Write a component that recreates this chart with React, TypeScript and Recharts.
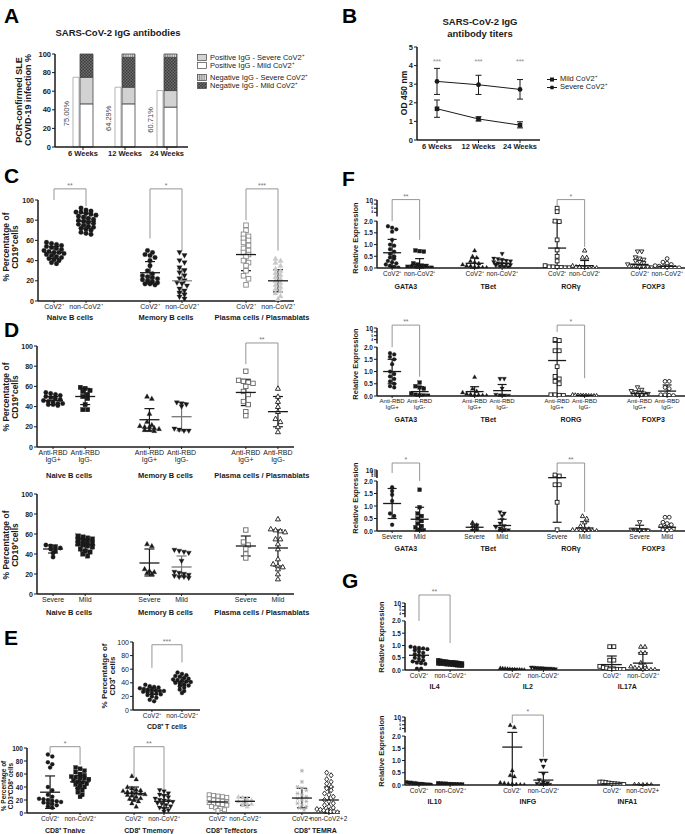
import React from 'react';
import {
  BarChart, Bar, LineChart, Line, ScatterChart, Scatter, XAxis, YAxis,
  ErrorBar, ReferenceLine, ReferenceDot, LabelList,
} from 'recharts';

const FONT = '"Liberation Sans", Arial, Helvetica, sans-serif';
const INK = '#1a1a1a';

// ---------- A: IgG antibodies ----------
const weeks = ['6 Weeks', '12 Weeks', '24 Weeks'];
const igPositiveTotal = [75.0, 64.29, 60.71];
const posMild = [46.4, 46.4, 42.9];
const posSevere = [28.6, 17.9, 17.8];
const negMild = [25.0, 32.1, 35.7];
const negSevere = [0, 3.6, 3.6];

// ---------- B: antibody titers ----------
const severeMean = [3.15, 2.97, 2.72];
const severeLo = [2.45, 2.45, 2.2];
const severeHi = [3.85, 3.48, 3.25];
const mildMean = [1.68, 1.13, 0.8];
const mildLo = [1.22, 1.02, 0.65];
const mildHi = [2.15, 1.25, 0.98];
const titerStars = ['***', '***', '***'];
const titerStarLevel = 4.2;

// ---------- C: B cells, CoV2+ vs non-CoV2+ ----------
const cNaiveCov = [58, 57, 56, 55, 54, 53, 52, 51, 50, 49, 48, 48, 47, 46, 45, 44, 43, 42, 41, 40, 38, 37];
const cNaiveNon = [92, 90, 89, 88, 88, 87, 86, 85, 84, 83, 82, 81, 80, 79, 78, 77, 76, 75, 74, 73, 72, 71, 70, 68, 67, 66];
const cMemCov = [50, 48, 46, 45, 43, 40, 35, 30, 27, 25, 24, 23, 22, 21, 20, 19, 18, 17, 17, 16];
const cMemNon = [48, 45, 40, 38, 33, 30, 28, 25, 22, 20, 18, 17, 15, 12, 10, 8, 6, 4, 2];
const cPlasCov = [75, 70, 66, 64, 62, 60, 58, 55, 52, 50, 48, 46, 44, 40, 38, 35, 30, 25, 22, 16];
const cPlasNon = [42, 40, 38, 35, 32, 30, 28, 26, 24, 22, 20, 18, 16, 14, 12, 10, 8, 5, 2];
const cMeans = [48, 79, 28, 20, 46, 20];
const cLows = [42, 72, 17, 8, 30, 9];
const cHighs = [54, 87, 39, 32, 63, 31];
const bCovLabels = ['CoV2⁺', 'non-CoV2⁺', 'CoV2⁺', 'non-CoV2⁺', 'CoV2⁺', 'non-CoV2⁺'];
const bCellNames = ['Naive B cells', 'Memory B cells', 'Plasma cells / Plasmablats'];
const cBrackets = [
  { a: 0, b: 1, top: 111, la: 100, lb: 94, t: '**' },
  { a: 2, b: 3, top: 111, la: 62, lb: 50, t: '*' },
  { a: 4, b: 5, top: 111, la: 80, lb: 50, t: '***' },
];

// ---------- D: anti-RBD and severity ----------
const dNaivePos = [54, 53, 52, 51, 50, 49, 48, 47, 46, 45, 44, 43, 43, 42, 42, 41];
const dNaiveNeg = [59, 58, 56, 55, 52, 50, 48, 42, 37, 37];
const dMemPos = [50, 48, 33, 25, 22, 21, 20, 20, 19, 18, 17, 17, 16];
const dMemNeg = [44, 43, 42, 40, 18, 17, 16, 16];
const dPlasPos = [75, 66, 65, 64, 63, 60, 55, 52, 45, 42, 35, 31];
const dPlasNeg = [58, 50, 45, 40, 35, 28, 25, 20, 15];
const dMeans = [46, 50, 27, 30, 54, 35];
const dLows = [42, 42, 16, 16, 41, 20];
const dHighs = [50, 58, 38, 44, 67, 50];
const rbdLabels = ['Anti-RBD\nIgG+', 'Anti-RBD\nIgG-', 'Anti-RBD\nIgG+', 'Anti-RBD\nIgG-', 'Anti-RBD\nIgG+', 'Anti-RBD\nIgG-'];
const dBrackets = [{ a: 4, b: 5, top: 103, la: 82, lb: 59, t: '**' }];

const sNaiveSev = [49, 48, 47, 46, 45, 43, 41, 37];
const sNaiveMild = [58, 57, 56, 55, 54, 53, 52, 51, 50, 49, 48, 47, 45, 43, 42, 40, 38];
const sMemSev = [50, 48, 25, 23, 22, 21, 20];
const sMemMild = [44, 43, 42, 41, 33, 22, 21, 20, 19, 18, 17, 17, 16];
const sPlasSev = [64, 52, 49, 45, 40, 36];
const sPlasMild = [75, 65, 64, 63, 62, 55, 55, 50, 45, 35, 30, 28, 27, 25, 20, 15];
const sMeans = [45, 49, 31, 27, 48, 46];
const sLows = [41, 43, 18, 17, 38, 28];
const sHighs = [49, 55, 45, 38, 58, 64];
const sevLabels = ['Severe', 'Mild', 'Severe', 'Mild', 'Severe', 'Mild'];

// ---------- E: CD8 T cells ----------
const eCd8Cov = [37, 35, 34, 33, 32, 31, 30, 30, 29, 28, 28, 27, 26, 25, 24, 23, 22, 20, 18, 15, 13];
const eCd8Non = [55, 53, 51, 50, 49, 47, 46, 45, 44, 43, 42, 41, 40, 39, 38, 36, 35, 33, 30, 28, 25];
const eCd8Means = [28, 42];
const eCd8Lows = [23, 36];
const eCd8Highs = [33, 48];
const eCd8Brackets = [{ a: 0, b: 1, top: 96, la: 62, lb: 70, t: '***' }];

const eNaiveCov = [90, 87, 78, 75, 70, 40, 35, 28, 25, 22, 21, 20, 19, 18, 17, 16, 15, 14, 12, 10, 8];
const eNaiveNon = [70, 68, 65, 63, 60, 58, 56, 55, 54, 53, 52, 50, 48, 47, 45, 44, 42, 40, 38, 35, 32, 28, 25];
const eMemCov = [57, 52, 40, 38, 36, 35, 34, 33, 32, 31, 30, 29, 28, 27, 25, 23, 22, 20, 18, 15, 10];
const eMemNon = [35, 33, 30, 28, 26, 24, 22, 20, 19, 18, 17, 15, 14, 12, 10, 8, 6, 4, 2];
const eEffCov = [28, 27, 26, 25, 24, 22, 20, 19, 18, 17, 16, 15, 14, 13, 12, 10, 8, 7, 5, 4];
const eEffNon = [25, 24, 22, 20, 18, 16, 15, 14, 12, 10];
const eTemraCov = [65, 48, 40, 38, 35, 30, 28, 25, 22, 20, 18, 15, 12, 10, 8, 5];
const eTemraNon = [62, 58, 52, 48, 45, 40, 38, 35, 30, 28, 25, 20, 18, 15, 12, 10, 8, 6, 5, 4, 3, 2, 2, 1, 1];
const eSubMeans = [32, 48, 30, 18, 17, 18, 23, 20];
const eSubLows = [7, 38, 20, 8, 10, 12, 8, 0];
const eSubHighs = [57, 58, 40, 28, 24, 24, 38, 40];
const eSubLabels = ['CoV2⁺', 'non-CoV2⁺', 'CoV2⁺', 'non-CoV2⁺', 'CoV2⁺', 'non-CoV2⁺', 'CoV2+', 'non-CoV2+2'];
const eSubNames = ['CD8⁺ Tnaive', 'CD8⁺ Tmemory', 'CD8⁺ Teffectors', 'CD8⁺ TEMRA'];
const eSubBrackets = [
  { a: 0, b: 1, top: 102, la: 92, lb: 74, t: '*' },
  { a: 2, b: 3, top: 102, la: 55, lb: 9, t: '**' },
];

// ---------- F: transcription factors ----------
const fGataCov = [1.78, 1.72, 1.65, 1.55, 1.2, 1.0, 0.95, 0.8, 0.7, 0.6, 0.5, 0.45, 0.4, 0.3, 0.25, 0.2, 0.15, 0.1, 0.05, 0.02, 0.01];
const fGataNon = [0.75, 0.72, 0.7, 0.2, 0.15, 0.1, 0.08, 0.05, 0.05, 0.03, 0.02, 0.02, 0.01, 0.01];
const fTbetCov = [0.75, 0.5, 0.45, 0.3, 0.25, 0.2, 0.15, 0.1, 0.1, 0.05, 0.05, 0.03, 0.02, 0.01];
const fTbetNon = [0.6, 0.4, 0.38, 0.35, 0.3, 0.28, 0.25, 0.2, 0.18, 0.15, 0.12, 0.1, 0.08, 0.05, 0.03];
const fRorCov = [6, 4.3, 2.0, 1.98, 1.2, 0.77, 0.5, 0.3, 0.1, 0.05, 0.05, 0.03, 0.02, 0.01, 0.01];
const fRorNon = [0.75, 0.45, 0.45, 0.1, 0.05, 0.05, 0.03, 0.02, 0.01, 0.01, 0.01];
const fFoxCov = [0.7, 0.7, 0.45, 0.4, 0.35, 0.3, 0.25, 0.2, 0.15, 0.1, 0.1, 0.05, 0.05, 0.03, 0.02];
const fFoxNon = [0.4, 0.25, 0.2, 0.15, 0.1, 0.08, 0.05, 0.05, 0.03, 0.02, 0.01];
const fMeans = [0.65, 0.15, 0.2, 0.2, 0.85, 0.1, 0.15, 0.07];
const fLows = [0.08, 0, 0, 0.05, 0, 0, 0, 0.02];
const fHighs = [1.22, 0.4, 0.42, 0.35, 1.95, 0.32, 0.3, 0.12];
const fCovLabels = ['CoV2⁺', 'non-CoV2⁺', 'CoV2⁺', 'non-CoV2⁺', 'CoV2⁺', 'non-CoV2⁺', 'CoV2⁺', 'non-CoV2⁺'];
const tfNames = ['GATA3', 'TBet', 'RORγ', 'FOXP3'];
const fBrackets = [
  { a: 0, b: 1, top: 10.2, la: 2.0, lb: 1.2, t: '**' },
  { a: 4, b: 5, top: 10.2, la: 6, lb: 0.9, t: '*' },
];

const gGataPos = [1.75, 1.7, 1.6, 1.5, 1.3, 1.0, 0.9, 0.8, 0.7, 0.6, 0.5, 0.4, 0.35];
const gGataNeg = [0.55, 0.4, 0.35, 0.3, 0.1, 0.05, 0.03, 0.02, 0.01];
const gTbetPos = [0.78, 0.3, 0.2, 0.15, 0.1, 0.08, 0.05, 0.05, 0.03, 0.02];
const gTbetNeg = [0.7, 0.7, 0.3, 0.05, 0.03, 0.02, 0.01];
const gRorPos = [4, 3.5, 1.85, 1.85, 1.2, 0.8, 0.7, 0.6, 0.5, 0.05, 0.05, 0.03, 0.02];
const gRorNeg = [0.05, 0.04, 0.03, 0.03, 0.02, 0.02, 0.01, 0.01, 0.01, 0.01];
const gFoxPos = [0.35, 0.25, 0.2, 0.15, 0.12, 0.1, 0.08, 0.05, 0.05, 0.03, 0.02];
const gFoxNeg = [0.6, 0.6, 0.35, 0.3, 0.05, 0.05, 0.03, 0.02];
const gMeans = [1.0, 0.18, 0.18, 0.22, 1.45, 0.02, 0.1, 0.2];
const gLows = [0.5, 0, 0, 0, 0.05, 0, 0, 0];
const gHighs = [1.5, 0.38, 0.38, 0.47, 2.6, 0.04, 0.2, 0.45];
const rbdLabels8 = ['Anti-RBD\nIgG+', 'Anti-RBD\nIgG-', 'Anti-RBD\nIgG+', 'Anti-RBD\nIgG-', 'Anti-RBD\nIgG+', 'Anti-RBD\nIgG-', 'Anti-RBD\nIgG+', 'Anti-RBD\nIgG-'];
const tfNamesRbd = ['GATA3', 'TBet', 'RORG', 'FOXP3'];
const gBrackets = [
  { a: 0, b: 1, top: 11.5, la: 2.0, lb: 0.79, t: '**' },
  { a: 4, b: 5, top: 11.5, la: 8, lb: 0.73, t: '*' },
];

const hGataSev = [1.75, 1.6, 1.45, 1.2, 0.7, 0.6, 0.25];
const hGataMild = [1.65, 0.95, 0.7, 0.6, 0.5, 0.4, 0.3, 0.2, 0.15, 0.05, 0.03, 0.02, 0.01];
const hTbetSev = [0.35, 0.25, 0.2, 0.15, 0.05, 0.03];
const hTbetMild = [0.75, 0.7, 0.6, 0.45, 0.3, 0.2, 0.15, 0.1, 0.05, 0.03, 0.02, 0.01];
const hRorSev = [5, 4, 1.85, 1.85, 1.15, 0.05];
const hRorMild = [0.6, 0.5, 0.35, 0.2, 0.1, 0.08, 0.05, 0.05, 0.03, 0.02, 0.02, 0.01, 0.01];
const hFoxSev = [0.35, 0.05, 0.05, 0.03, 0.02, 0.01];
const hFoxMild = [0.55, 0.55, 0.35, 0.3, 0.25, 0.2, 0.15, 0.1, 0.08, 0.05, 0.03, 0.02];
const hMeans = [1.1, 0.47, 0.15, 0.22, 2.33, 0.12, 0.08, 0.15];
const hLows = [0.5, 0, 0.05, 0, 0.35, 0, 0, 0.03];
const hHighs = [1.7, 0.95, 0.27, 0.47, 4.2, 0.37, 0.23, 0.3];
const sevLabels8 = ['Severe', 'Mild', 'Severe', 'Mild', 'Severe', 'Mild', 'Severe', 'Mild'];
const hBrackets = [
  { a: 0, b: 1, top: 17, la: 7, lb: 2.0, t: '*' },
  { a: 4, b: 5, top: 17, la: 8, lb: 0.76, t: '**' },
];

// ---------- G: cytokines ----------
const iIl4Cov = [0.95, 0.92, 0.9, 0.88, 0.85, 0.8, 0.75, 0.7, 0.65, 0.6, 0.55, 0.5, 0.45, 0.4, 0.35, 0.3, 0.28, 0.25, 0.05, 0.05];
const iIl4Non = [0.4, 0.38, 0.36, 0.35, 0.34, 0.33, 0.32, 0.31, 0.3, 0.3, 0.29, 0.28, 0.27, 0.26, 0.25, 0.25, 0.24, 0.23, 0.22, 0.21, 0.2, 0.19, 0.18, 0.17];
const iIl2Cov = [0.08, 0.07, 0.06, 0.05, 0.04, 0.03, 0.03, 0.02, 0.02, 0.01, 0.01];
const iIl2Non = [0.1, 0.09, 0.08, 0.07, 0.07, 0.06, 0.05, 0.05, 0.04, 0.03];
const iIl17Cov = [0.95, 0.95, 0.4, 0.4, 0.15, 0.1, 0.08, 0.05, 0.05, 0.03, 0.02, 0.02, 0.01, 0.01];
const iIl17Non = [0.95, 0.95, 0.7, 0.7, 0.3, 0.2, 0.15, 0.1, 0.08, 0.05, 0.03, 0.02, 0.02, 0.01];
const iMeans = [0.6, 0.28, 0.03, 0.06, 0.22, 0.28];
const iLows = [0.35, 0.2, 0.01, 0.04, 0, 0];
const iHighs = [0.85, 0.36, 0.05, 0.08, 0.57, 0.7];
const iNames = ['IL4', 'IL2', 'IL17A'];
const iBrackets = [{ a: 0, b: 1, top: 14.5, la: 2.0, lb: 1.1, t: '**' }];

const jIl10Cov = [0.12, 0.1, 0.1, 0.08, 0.08, 0.06, 0.05, 0.04, 0.03, 0.02, 0.02, 0.01];
const jIl10Non = [0.07, 0.06, 0.05, 0.05, 0.04, 0.04, 0.03, 0.03, 0.02, 0.02];
const jInfgCov = [5.8, 4.7, 0.6, 0.4, 0.35, 0.1, 0.08, 0.05, 0.05, 0.03, 0.02, 0.01];
const jInfgNon = [1.0, 1.0, 0.75, 0.45, 0.2, 0.1, 0.08, 0.05, 0.03, 0.02, 0.01];
const jInfaCov = [0.12, 0.12, 0.1, 0.08, 0.06, 0.05, 0.04, 0.03, 0.02];
const jInfaNon = [0.02, 0.02, 0.01, 0.01, 0.01];
const jMeans = [0.05, 0.04, 1.55, 0.2, 0.05, 0.01];
const jLows = [0.02, 0.02, 0, 0, 0.02, 0];
const jHighs = [0.08, 0.06, 2.02, 0.52, 0.08, 0.02];
const jLabels = ['CoV2⁺', 'non-CoV2⁺', 'CoV2⁺', 'non-CoV2⁺', 'CoV2⁺', 'non-CoV2+'];
const jNames = ['IL10', 'INFG', 'INFA1'];
const jBrackets = [{ a: 2, b: 3, top: 11, la: 6.8, lb: 1.14, t: '*' }];

// ---------- helpers ----------
type Bracket = { a: number; b: number; top: number; la: number; lb: number; t: string };

// broken axis: 0..2 linear, then a gap, then 2..10 squeezed
const brk = (g: number, s: number) => (v: number) => (v <= 2 ? v : 2 + g + ((v - 2) / 8) * s);
const brkTicks = (f: (v: number) => number) => [0, 0.5, 1, 1.5, 2, f(4), f(6), f(8), f(10)];
const brkLabels = ['0.0', '0.5', '1.0', '1.5', '2.0', '4', '6', '8', '10'];

function swarm(vals: number[], pos: number, dx: number, bin: number, maxHalf: number) {
  const s = [...vals].sort((a, b) => b - a);
  const out: { x: number; y: number }[] = [];
  let i = 0;
  while (i < s.length) {
    let j = i;
    while (j < s.length && s[i] - s[j] < bin) j++;
    const n = j - i;
    const step = n > 1 ? Math.min(dx, (2 * maxHalf) / (n - 1)) : 0;
    for (let k = 0; k < n; k++) out.push({ x: pos + (k - (n - 1) / 2) * step, y: s[i + k] });
    i = j;
  }
  return out;
}

function markerShape(kind: string, color: string, r: number) {
  return (p: any) => {
    const { cx, cy } = p;
    if (cx == null || cy == null) return <g />;
    const open = kind.startsWith('o');
    const k = open ? kind.slice(1) : kind;
    const fill = open ? '#fff' : color;
    const sw = open ? 0.9 : 0.3;
    if (k === 'square') return <rect x={cx - r} y={cy - r} width={2 * r} height={2 * r} fill={fill} stroke={color} strokeWidth={sw} />;
    if (k === 'triangle')
      return <polygon points={`${cx},${cy - r * 1.2} ${cx + r * 1.15},${cy + r * 0.85} ${cx - r * 1.15},${cy + r * 0.85}`} fill={fill} stroke={color} strokeWidth={sw} />;
    if (k === 'tridown')
      return <polygon points={`${cx},${cy + r * 1.2} ${cx + r * 1.15},${cy - r * 0.85} ${cx - r * 1.15},${cy - r * 0.85}`} fill={fill} stroke={color} strokeWidth={sw} />;
    if (k === 'diamond')
      return <polygon points={`${cx},${cy - r * 1.3} ${cx + r},${cy} ${cx},${cy + r * 1.3} ${cx - r},${cy}`} fill={fill} stroke={color} strokeWidth={sw} />;
    if (k === 'star')
      return (
        <g stroke={color} strokeWidth={0.9}>
          <line x1={cx - r} y1={cy} x2={cx + r} y2={cy} />
          <line x1={cx - r * 0.6} y1={cy - r} x2={cx + r * 0.6} y2={cy + r} />
          <line x1={cx + r * 0.6} y1={cy - r} x2={cx - r * 0.6} y2={cy + r} />
        </g>
      );
    return <circle cx={cx} cy={cy} r={r} fill={fill} stroke={color} strokeWidth={sw} />;
  };
}

const makeTick = (positions: number[], labels: string[], fs: number, bold: boolean, dy: number) => (p: any) => {
  let idx = positions.findIndex((v) => Math.abs(v - Number(p.payload?.value)) < 1e-6);
  if (idx < 0) idx = p.index ?? 0;
  const lines = (labels[idx] ?? '').split('\n');
  return (
    <text x={p.x} y={p.y} textAnchor="middle" fontSize={fs} fontWeight={bold ? 700 : 400} fill={INK} fontFamily={FONT}>
      {lines.map((l, i) => (
        <tspan key={i} x={p.x} dy={i === 0 ? dy : fs + 0.3}>{l}</tspan>
      ))}
    </text>
  );
};

// y tick for the broken axes: the squeezed 4/6/8 labels are drawn tiny, like the original
const makeYTick = (ticks: number[], labels: string[], fs: number, bold: boolean) => (p: any) => {
  let idx = ticks.findIndex((v) => Math.abs(v - Number(p.payload?.value)) < 1e-6);
  if (idx < 0) idx = p.index ?? 0;
  const lab = labels[idx] ?? '';
  const tiny = lab === '4' || lab === '6' || lab === '8';
  return (
    <text x={p.x} y={p.y} textAnchor="end" dominantBaseline="central" fontSize={tiny ? 3.2 : fs} fontWeight={bold ? 700 : 400} fill={INK} fontFamily={FONT}>
      {lab}
    </text>
  );
};

interface DotProps {
  px: number; py: number; pw: number; ph: number; h1: number;
  yw?: number;
  positions: number[];
  xDomain: [number, number];
  yTop: number;
  yTicks: number[];
  yLabels: string[];
  tf?: (v: number) => number;
  brkGap?: number;
  values: number[][];
  means: number[]; lows: number[]; highs: number[];
  markers: string[]; colors: string[]; barColors: string[];
  tickLabels: string[];
  names: string[]; namePos: number[];
  brackets: Bracket[];
  r?: number;
  meanHalf?: number;
  capHalf?: number;
  tickFs?: number;
  yFs?: number;
  nameFs?: number;
  yBold?: boolean;
}

function DotChart(p: DotProps) {
  const tf = p.tf ?? ((v: number) => v);
  const yw = p.yw ?? 20;
  const mt = 2;
  const mr = 2;
  const h2 = 12;
  const W = yw + p.pw + mr;
  const H = mt + p.ph + p.h1 + h2;
  const pxX = p.pw / (p.xDomain[1] - p.xDomain[0]);
  const pxY = p.ph / p.yTop;
  const r = p.r ?? 2.2;
  const tickFs = p.tickFs ?? 7;
  const yFs = p.yFs ?? 7;
  const yBold = p.yBold !== false;
  const pts = p.values.map((vals, i) =>
    swarm(vals.map(tf), p.positions[i], (2 * r + 0.4) / pxX, (1.7 * r) / pxY, 12 / pxX),
  );
  const meanData = p.means.map((m, i) => ({
    x: p.positions[i],
    y: tf(m),
    err: [tf(m) - tf(p.lows[i]), tf(p.highs[i]) - tf(m)],
  }));
  const mh = p.meanHalf ?? 10;
  const axisStroke = { stroke: INK, strokeWidth: 1.5 };
  const x0 = p.xDomain[0];
  return (
    <div style={{ position: 'absolute', left: p.px - yw, top: p.py - mt }}>
      <ScatterChart width={W} height={H} margin={{ top: mt, right: mr, bottom: 0, left: 0 }}>
        <XAxis
          type="number" dataKey="x" domain={p.xDomain} ticks={p.positions} interval={0} allowDataOverflow
          height={p.h1} tickSize={2} tickMargin={0} axisLine={axisStroke} tickLine={{ stroke: INK }}
          tick={makeTick(p.positions, p.tickLabels, tickFs, false, tickFs * 0.85)}
        />
        <XAxis
          xAxisId="names" type="number" dataKey="x" domain={p.xDomain} ticks={p.namePos} interval={0} allowDataOverflow
          height={h2} tickSize={0} tickMargin={0} axisLine={false} tickLine={false}
          tick={makeTick(p.namePos, p.names, p.nameFs ?? 7.5, true, 8)}
        />
        <YAxis
          type="number" dataKey="y" domain={[0, p.yTop]} ticks={p.yTicks} interval={0} allowDataOverflow width={yw}
          tickSize={3} tickMargin={1} axisLine={p.brkGap != null ? false : axisStroke} tickLine={{ stroke: INK }}
          tick={makeYTick(p.yTicks, p.yLabels, yFs, yBold)}
        />
        {p.brkGap != null && (
          <ReferenceLine segment={[{ x: x0, y: 0 }, { x: x0, y: 2 }]} stroke={INK} strokeWidth={1.5} ifOverflow="visible" />
        )}
        {p.brkGap != null && (
          <ReferenceLine segment={[{ x: x0, y: 2 + p.brkGap }, { x: x0, y: p.yTop }]} stroke={INK} strokeWidth={1.5} ifOverflow="visible" />
        )}
        {p.brackets.flatMap((b, i) => {
          const xa = p.positions[b.a];
          const xb = p.positions[b.b];
          const yt = tf(b.top);
          return [
            <ReferenceLine key={`l${i}`} segment={[{ x: xa, y: tf(b.la) }, { x: xa, y: yt }]} stroke="#8a8a8a" strokeWidth={0.9} ifOverflow="visible" />,
            <ReferenceLine
              key={`t${i}`} segment={[{ x: xa, y: yt }, { x: xb, y: yt }]} stroke="#8a8a8a" strokeWidth={0.9} ifOverflow="visible"
              label={{ value: b.t, position: 'top', fontSize: 7, fill: '#777', fontFamily: FONT, offset: 1 }}
            />,
            <ReferenceLine key={`r${i}`} segment={[{ x: xb, y: yt }, { x: xb, y: tf(b.lb) }]} stroke="#8a8a8a" strokeWidth={0.9} ifOverflow="visible" />,
          ];
        })}
        {pts.map((d, i) => (
          <Scatter key={`g${i}`} data={d} shape={markerShape(p.markers[i], p.colors[i], r)} isAnimationActive={false} />
        ))}
        {meanData.map((d, i) => (
          <Scatter
            key={`m${i}`} data={[d]} isAnimationActive={false}
            shape={(s: any) => <line x1={s.cx - mh} x2={s.cx + mh} y1={s.cy} y2={s.cy} stroke={p.barColors[i]} strokeWidth={1.3} />}
          >
            <ErrorBar dataKey="err" direction="y" width={p.capHalf ?? 5} stroke={p.barColors[i]} strokeWidth={1.2} />
          </Scatter>
        ))}
        <Scatter xAxisId="names" data={p.namePos.map((x) => ({ x, y: 0 }))} shape={() => <g />} isAnimationActive={false} />
      </ScatterChart>
    </div>
  );
}

function YLabel({ cx, cy, lines, fs }: { cx: number; cy: number; lines: string[]; fs: number }) {
  return (
    <div
      style={{
        position: 'absolute', left: cx, top: cy, transform: 'translate(-50%, -50%) rotate(-90deg)',
        whiteSpace: 'nowrap', textAlign: 'center', fontWeight: 700, fontSize: fs, lineHeight: 1.05, color: INK,
      }}
    >
      {lines.map((l, i) => (
        <div key={i}>{l}</div>
      ))}
    </div>
  );
}

function Letter({ x, y, t }: { x: number; y: number; t: string }) {
  return (
    <div style={{ position: 'absolute', left: x, top: y, fontSize: 21, fontWeight: 700, lineHeight: 1, color: '#000' }}>{t}</div>
  );
}

function Swatch({ fill }: { fill: string }) {
  return (
    <svg width={10} height={7} style={{ display: 'block', marginRight: 3 }}>
      <rect x={0.5} y={0.5} width={9} height={6} fill={fill} stroke="#444" strokeWidth={0.7} />
    </svg>
  );
}

const pctLabel = (p: any) => {
  const x = Number(p.x);
  const y = Number(p.y);
  const h = Number(p.height);
  const cx = x - 6;
  const cy = y + h * 0.52;
  return (
    <text x={cx} y={cy} transform={`rotate(-90 ${cx} ${cy})`} textAnchor="middle" dominantBaseline="central" fontSize={7.5} fill="#444" fontFamily={FONT}>
      {Number(p.value).toFixed(2)}%
    </text>
  );
};

function PanelA() {
  const data = weeks.map((w, i) => ({
    week: w, total: igPositiveTotal[i], posMild: posMild[i], posSevere: posSevere[i], negMild: negMild[i], negSevere: negSevere[i],
  }));
  const bs = { stroke: '#444', strokeWidth: 0.8 };
  const legend = [
    { fill: '#d2d2d2', text: 'Positive IgG - Severe CoV2⁺' },
    { fill: '#fff', text: 'Positive IgG - Mild CoV2⁺' },
    { fill: 'url(#aVlines)', text: 'Negative IgG - Severe CoV2⁺', gap: true },
    { fill: 'url(#aHatch)', text: 'Negative IgG - Mild CoV2⁺' },
  ];
  return (
    <>
      <div style={{ position: 'absolute', left: 118, top: 27, transform: 'translateX(-50%)', fontSize: 9.5, fontWeight: 700, whiteSpace: 'nowrap' }}>
        SARS-CoV-2 IgG antibodies
      </div>
      <YLabel cx={24} cy={100} lines={['PCR-confirmed SLE', 'COVID-19 infection %']} fs={9} />
      <div style={{ position: 'absolute', left: 33, top: 52 }}>
        <BarChart width={22 + 133 + 2} height={2 + 93 + 13} data={data} margin={{ top: 2, right: 2, left: 0, bottom: 0 }} barGap={1} barCategoryGap={0}>
          <defs>
            <pattern id="aHatch" width="3" height="3" patternUnits="userSpaceOnUse">
              <rect width="3" height="3" fill="#6e6e6e" />
              <rect width="1.5" height="1.5" fill="#3c3c3c" />
              <rect x="1.5" y="1.5" width="1.5" height="1.5" fill="#3c3c3c" />
            </pattern>
            <pattern id="aVlines" width="2.2" height="4" patternUnits="userSpaceOnUse">
              <rect width="2.2" height="4" fill="#e2e2e2" />
              <line x1="0.6" y1="0" x2="0.6" y2="4" stroke="#666" strokeWidth="0.8" />
            </pattern>
          </defs>
          <XAxis
            dataKey="week" padding={{ left: 7, right: 0 }} height={13} tickSize={3} tickMargin={1} interval={0}
            axisLine={{ stroke: INK, strokeWidth: 1.5 }} tickLine={{ stroke: INK }}
            tick={{ fontSize: 7.5, fontWeight: 700, fill: INK, fontFamily: FONT }}
          />
          <YAxis
            type="number" domain={[0, 100]} ticks={[0, 20, 40, 60, 80, 100]} interval={0} width={22} tickSize={3} tickMargin={1}
            axisLine={{ stroke: INK, strokeWidth: 1.5 }} tickLine={{ stroke: INK }}
            tick={{ fontSize: 7.5, fontWeight: 700, fill: INK, fontFamily: FONT }}
          />
          <Bar dataKey="total" stackId="t" barSize={6} fill="#fff" stroke="#aaa" strokeWidth={0.9} isAnimationActive={false}>
            <LabelList dataKey="total" content={pctLabel} />
          </Bar>
          <Bar dataKey="posMild" stackId="s" barSize={13} fill="#fff" {...bs} isAnimationActive={false} />
          <Bar dataKey="posSevere" stackId="s" barSize={13} fill="#d2d2d2" {...bs} isAnimationActive={false} />
          <Bar dataKey="negMild" stackId="s" barSize={13} fill="url(#aHatch)" {...bs} isAnimationActive={false} />
          <Bar dataKey="negSevere" stackId="s" barSize={13} fill="url(#aVlines)" {...bs} isAnimationActive={false} />
        </BarChart>
      </div>
      <div style={{ position: 'absolute', left: 197, top: 54, fontSize: 7.5, lineHeight: '7.5px' }}>
        {legend.map((l, i) => (
          <div key={i} style={{ display: 'flex', alignItems: 'center', marginTop: l.gap ? 5 : 0 }}>
            <Swatch fill={l.fill} />
            <span>{l.text}</span>
          </div>
        ))}
      </div>
    </>
  );
}

function PanelB() {
  const data = weeks.map((w, i) => ({
    week: w,
    severe: severeMean[i], severeErr: [severeMean[i] - severeLo[i], severeHi[i] - severeMean[i]],
    mild: mildMean[i], mildErr: [mildMean[i] - mildLo[i], mildHi[i] - mildMean[i]],
  }));
  const sq = (s: any) => <rect key={`q${s.index}`} x={s.cx - 2.3} y={s.cy - 2.3} width={4.6} height={4.6} fill={INK} />;
  const ci = (s: any) => <circle key={`c${s.index}`} cx={s.cx} cy={s.cy} r={2.4} fill={INK} />;
  return (
    <>
      <div style={{ position: 'absolute', left: 480, top: 16, transform: 'translateX(-50%)', fontSize: 9.5, fontWeight: 700, whiteSpace: 'nowrap', textAlign: 'center', lineHeight: '12px' }}>
        SARS-CoV-2 IgG<br />antibody titers
      </div>
      <YLabel cx={404} cy={93} lines={['OD 450 nm']} fs={8.5} />
      <div style={{ position: 'absolute', left: 405, top: 45 }}>
        <LineChart width={12 + 123 + 2} height={2 + 93 + 14} data={data} margin={{ top: 2, right: 2, left: 0, bottom: 0 }}>
          <XAxis
            dataKey="week" height={14} tickSize={3} tickMargin={1} interval={0} padding={{ left: 20, right: 20 }}
            axisLine={{ stroke: INK, strokeWidth: 1.5 }} tickLine={{ stroke: INK }}
            tick={{ fontSize: 7.5, fontWeight: 700, fill: INK, fontFamily: FONT }}
          />
          <YAxis
            type="number" domain={[0, 5]} ticks={[0, 1, 2, 3, 4, 5]} interval={0} width={12} tickSize={3} tickMargin={1}
            axisLine={{ stroke: INK, strokeWidth: 1.5 }} tickLine={{ stroke: INK }}
            tick={{ fontSize: 7.5, fontWeight: 700, fill: INK, fontFamily: FONT }}
          />
          {weeks.map((w, i) => (
            <ReferenceDot key={w} x={w} y={titerStarLevel} r={0} ifOverflow="visible"
              label={{ value: titerStars[i], fill: '#8a8a8a', fontSize: 7, fontFamily: FONT }} />
          ))}
          <Line dataKey="severe" stroke={INK} strokeWidth={1} dot={ci} isAnimationActive={false}>
            <ErrorBar dataKey="severeErr" direction="y" width={3} stroke={INK} strokeWidth={1} />
          </Line>
          <Line dataKey="mild" stroke={INK} strokeWidth={1} dot={sq} isAnimationActive={false}>
            <ErrorBar dataKey="mildErr" direction="y" width={3} stroke={INK} strokeWidth={1} />
          </Line>
        </LineChart>
      </div>
      <div style={{ position: 'absolute', left: 547, top: 75, fontSize: 7.5, lineHeight: '8px' }}>
        {[{ t: 'Mild CoV2⁺', m: 'sq' }, { t: 'Severe CoV2⁺', m: 'ci' }].map((l) => (
          <div key={l.t} style={{ display: 'flex', alignItems: 'center' }}>
            <svg width={10} height={7} style={{ display: 'block', marginRight: 3 }}>
              <line x1={0} y1={3.5} x2={10} y2={3.5} stroke={INK} strokeWidth={1} />
              {l.m === 'sq' ? <rect x={3} y={1.5} width={4} height={4} fill={INK} /> : <circle cx={5} cy={3.5} r={2.1} fill={INK} />}
            </svg>
            <span>{l.t}</span>
          </div>
        ))}
      </div>
    </>
  );
}

const pct = { yTop: 100, yTicks: [0, 20, 40, 60, 80, 100], yLabels: ['0', '20', '40', '60', '80', '100'] };
const six = [1, 2, 4, 5, 7, 8];
const eight = [1, 2, 4, 5, 7, 8, 10, 11];
const bMarkers = ['circle', 'square', 'triangle', 'tridown', 'osquare', 'otriangle'];
const tfMarkers = ['circle', 'square', 'triangle', 'tridown', 'osquare', 'otriangle', 'otridown', 'ocircle'];
const blk6 = [INK, INK, INK, INK, INK, INK];
const blk8 = [INK, INK, INK, INK, INK, INK, INK, INK];

const fT = brk(0.2, 0.7);
const gT = brk(0.15, 0.63);
const hT = brk(0.12, 0.32);
const iT = brk(0.15, 0.58);
const jT = brk(0.15, 0.63);

export default function App() {
  return (
    <div style={{ position: 'absolute', left: 0, top: 0, width: 685, height: 834, background: '#fff', fontFamily: FONT, color: INK, overflow: 'hidden' }}>
      <style>{'.recharts-surface{overflow:visible}'}</style>
      <Letter x={4} y={5} t="A" />
      <Letter x={342} y={5} t="B" />
      <Letter x={4} y={165} t="C" />
      <Letter x={4} y={319} t="D" />
      <Letter x={4} y={627} t="E" />
      <Letter x={342} y={168} t="F" />
      <Letter x={342} y={570} t="G" />

      <PanelA />
      <PanelB />

      {/* C */}
      <YLabel cx={11} cy={247} lines={['% Percentatge of', 'CD19⁺cells']} fs={8.5} />
      <DotChart
        px={38} py={200} pw={256} ph={101} h1={11} yw={22} positions={six} xDomain={[0.5, 8.5]} {...pct}
        values={[cNaiveCov, cNaiveNon, cMemCov, cMemNon, cPlasCov, cPlasNon]}
        means={cMeans} lows={cLows} highs={cHighs}
        markers={['circle', 'circle', 'circle', 'tridown', 'osquare', 'triangle']}
        colors={[INK, INK, INK, INK, '#8a8a8a', '#c8c8c8']}
        barColors={[INK, INK, INK, '#8a8a8a', INK, INK]}
        tickLabels={bCovLabels} names={bCellNames} namePos={[1.5, 4.5, 7.5]} brackets={cBrackets} r={2.3}
      />

      {/* D */}
      <YLabel cx={11} cy={397} lines={['% Percentatge of', 'CD19⁺cells']} fs={8.5} />
      <DotChart
        px={37} py={346} pw={257} ph={101} h1={23} yw={22} positions={six} xDomain={[0.5, 8.5]} {...pct}
        values={[dNaivePos, dNaiveNeg, dMemPos, dMemNeg, dPlasPos, dPlasNeg]}
        means={dMeans} lows={dLows} highs={dHighs}
        markers={bMarkers} colors={[INK, INK, INK, INK, '#666', INK]} barColors={[INK, INK, INK, '#777', INK, INK]}
        tickLabels={rbdLabels} names={bCellNames} namePos={[1.5, 4.5, 7.5]} brackets={dBrackets} r={2.2}
      />
      <YLabel cx={11} cy={545} lines={['% Percentatge of', 'CD19⁺cells']} fs={8.5} />
      <DotChart
        px={37} py={494} pw={257} ph={100} h1={13} yw={22} positions={six} xDomain={[0.5, 8.5]} {...pct}
        values={[sNaiveSev, sNaiveMild, sMemSev, sMemMild, sPlasSev, sPlasMild]}
        means={sMeans} lows={sLows} highs={sHighs}
        markers={bMarkers} colors={[INK, INK, INK, INK, '#666', INK]} barColors={[INK, INK, INK, '#777', INK, INK]}
        tickLabels={sevLabels} names={bCellNames} namePos={[1.5, 4.5, 7.5]} brackets={[]} r={2.2}
      />

      {/* E */}
      <YLabel cx={109} cy={676} lines={['% Percentatge of', 'CD3⁺ cells']} fs={8} />
      <DotChart
        px={133} py={642} pw={67} ph={68} h1={11} yw={18} positions={[1, 2]} xDomain={[0.37, 2.6]} {...pct}
        values={[eCd8Cov, eCd8Non]} means={eCd8Means} lows={eCd8Lows} highs={eCd8Highs}
        markers={['circle', 'circle']} colors={[INK, INK]} barColors={[INK, INK]}
        tickLabels={['CoV2⁺', 'non-CoV2⁺']} names={['CD8⁺ T cells']} namePos={[1.5]} brackets={eCd8Brackets}
        r={2} yBold={false} tickFs={6.5} nameFs={7} meanHalf={9} capHalf={4}
      />
      <YLabel cx={8} cy={786} lines={['% Percentage of', 'CD3⁺CD8⁺ cells']} fs={6.5} />
      <DotChart
        px={27} py={748} pw={313} ph={65} h1={12} yw={18} positions={[1, 2, 3.8, 4.8, 6.6, 7.5, 9.4, 10.3]} xDomain={[0.23, 10.67]} {...pct}
        values={[eNaiveCov, eNaiveNon, eMemCov, eMemNon, eEffCov, eEffNon, eTemraCov, eTemraNon]}
        means={eSubMeans} lows={eSubLows} highs={eSubHighs}
        markers={['circle', 'square', 'triangle', 'tridown', 'osquare', 'triangle', 'star', 'odiamond']}
        colors={[INK, INK, INK, INK, '#8a8a8a', '#c8c8c8', '#b0b0b0', INK]}
        barColors={[INK, INK, INK, INK, INK, INK, INK, INK]}
        tickLabels={eSubLabels} names={eSubNames} namePos={[1.5, 4.3, 7.05, 9.85]} brackets={eSubBrackets}
        r={2} tickFs={6.5} yFs={6.5} nameFs={7} meanHalf={10} capHalf={5}
      />

      {/* F */}
      <YLabel cx={356} cy={238} lines={['Relative Expression']} fs={7.5} />
      <DotChart
        px={377} py={200} pw={308} ph={68} h1={13} yw={16} positions={eight} xDomain={[0.45, 11.65]}
        yTop={2.9} yTicks={brkTicks(fT)} yLabels={brkLabels} tf={fT} brkGap={0.2}
        values={[fGataCov, fGataNon, fTbetCov, fTbetNon, fRorCov, fRorNon, fFoxCov, fFoxNon]}
        means={fMeans} lows={fLows} highs={fHighs} markers={tfMarkers} colors={blk8} barColors={blk8}
        tickLabels={fCovLabels} names={tfNames} namePos={[1.5, 4.5, 7.5, 10.5]} brackets={fBrackets}
        r={1.9} tickFs={6.5} yFs={6.5} nameFs={7} meanHalf={9} capHalf={4.5}
      />
      <YLabel cx={356} cy={364} lines={['Relative Expression']} fs={7.5} />
      <DotChart
        px={377} py={328} pw={308} ph={68} h1={18} yw={16} positions={eight} xDomain={[0.45, 11.65]}
        yTop={2.78} yTicks={brkTicks(gT)} yLabels={brkLabels} tf={gT} brkGap={0.15}
        values={[gGataPos, gGataNeg, gTbetPos, gTbetNeg, gRorPos, gRorNeg, gFoxPos, gFoxNeg]}
        means={gMeans} lows={gLows} highs={gHighs} markers={tfMarkers} colors={blk8} barColors={blk8}
        tickLabels={rbdLabels8} names={tfNamesRbd} namePos={[1.5, 4.5, 7.5, 10.5]} brackets={gBrackets}
        r={1.9} tickFs={6} yFs={6.5} nameFs={7} meanHalf={9} capHalf={4.5}
      />
      <YLabel cx={356} cy={498} lines={['Relative Expression']} fs={7.5} />
      <DotChart
        px={377} py={470} pw={308} ph={61} h1={12} yw={16} positions={eight} xDomain={[0.45, 11.65]}
        yTop={2.44} yTicks={brkTicks(hT)} yLabels={brkLabels} tf={hT} brkGap={0.12}
        values={[hGataSev, hGataMild, hTbetSev, hTbetMild, hRorSev, hRorMild, hFoxSev, hFoxMild]}
        means={hMeans} lows={hLows} highs={hHighs} markers={tfMarkers} colors={blk8} barColors={blk8}
        tickLabels={sevLabels8} names={tfNames} namePos={[1.5, 4.5, 7.5, 10.5]} brackets={hBrackets}
        r={1.9} tickFs={6.5} yFs={6.5} nameFs={7} meanHalf={9} capHalf={4.5}
      />

      {/* G */}
      <YLabel cx={382} cy={637} lines={['Relative Expression']} fs={7.5} />
      <DotChart
        px={405} py={603} pw={255} ph={67} h1={11} yw={16} positions={[1, 2, 4, 5, 7.2, 8.2]} xDomain={[0.55, 8.75]}
        yTop={2.73} yTicks={brkTicks(iT)} yLabels={brkLabels} tf={iT} brkGap={0.15}
        values={[iIl4Cov, iIl4Non, iIl2Cov, iIl2Non, iIl17Cov, iIl17Non]}
        means={iMeans} lows={iLows} highs={iHighs} markers={bMarkers} colors={blk6} barColors={blk6}
        tickLabels={bCovLabels} names={iNames} namePos={[1.5, 4.5, 7.7]} brackets={iBrackets}
        r={1.9} tickFs={6.5} yFs={6.5} nameFs={7} meanHalf={10} capHalf={5}
      />
      <YLabel cx={382} cy={751} lines={['Relative Expression']} fs={7.5} />
      <DotChart
        px={405} py={717} pw={255} ph={68} h1={11} yw={16} positions={[1, 2, 4, 5, 7.2, 8.2]} xDomain={[0.55, 8.75]}
        yTop={2.78} yTicks={brkTicks(jT)} yLabels={brkLabels} tf={jT} brkGap={0.15}
        values={[jIl10Cov, jIl10Non, jInfgCov, jInfgNon, jInfaCov, jInfaNon]}
        means={jMeans} lows={jLows} highs={jHighs} markers={bMarkers} colors={blk6} barColors={blk6}
        tickLabels={jLabels} names={jNames} namePos={[1.5, 4.5, 7.7]} brackets={jBrackets}
        r={1.9} tickFs={6.5} yFs={6.5} nameFs={7} meanHalf={10} capHalf={5}
      />
    </div>
  );
}
